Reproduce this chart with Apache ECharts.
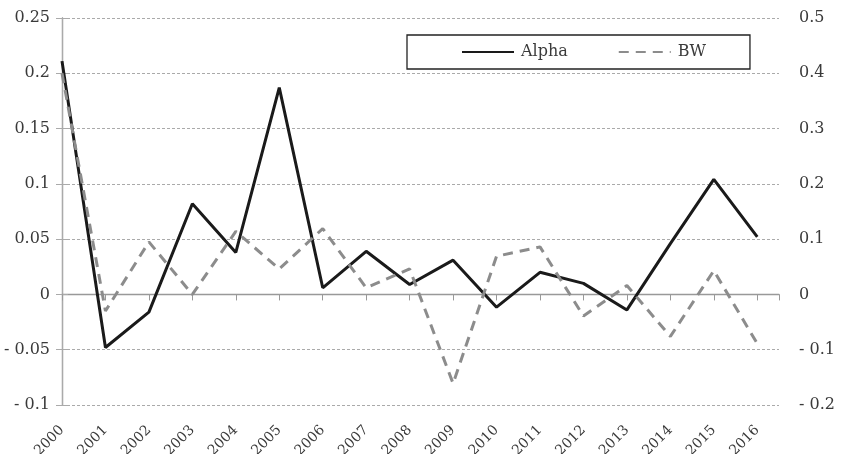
<!DOCTYPE html>
<html>
<head>
<meta charset="utf-8">
<script src="https://cdn.jsdelivr.net/npm/echarts@6/dist/echarts.min.js"></script>
<style>
  html, body { margin: 0; padding: 0; background: #fff; }
  #chart { width: 853px; height: 454px; }
</style>
</head>
<body>
<div id="chart"></div>
<script>
  // data
  var years = ['2000', '2001', '2002', '2003', '2004', '2005', '2006', '2007', '2008',
    '2009', '2010', '2011', '2012', '2013', '2014', '2015', '2016']
  var alpha = [0.211, -0.048, -0.016, 0.082, 0.038, 0.187, 0.006, 0.039, 0.009,
    0.031, -0.0115, 0.02, 0.01, -0.014, 0.046, 0.104, 0.052]
  var bw = [0.40, -0.03, 0.095, 0.0, 0.114, 0.046, 0.119, 0.012, 0.046,
    -0.161, 0.069, 0.086, -0.039, 0.016, -0.076, 0.043, -0.089]

  var font = 'DejaVu Serif'
  var textColor = '#3a3a3a'

  function fmt (v, d) {
    var s = String(+v.toFixed(d))
    return v < 0 ? '- ' + s.replace('-', '') : s
  }

  var myChart = echarts.init(document.getElementById('chart'))
  myChart.setOption({
    animation: false,
    grid: { left: 62, right: 74, top: 18, bottom: 49, containLabel: false, outerBoundsMode: 'none' },
    legend: {
      left: 407,
      top: 35,
      padding: [9, 44, 9, 54],
      itemGap: 50,
      itemWidth: 52,
      itemHeight: 14,
      borderColor: '#222',
      borderWidth: 1.3,
      itemStyle: { opacity: 0 },
      textStyle: { fontFamily: font, fontSize: 16, color: textColor, padding: [0, 0, 0, 2] },
      data: ['Alpha', 'BW']
    },
    xAxis: [
      {
        type: 'value',
        min: 0,
        max: 16.5,
        interval: 1,
        axisLine: { onZero: true, lineStyle: { color: '#999', width: 1.3 } },
        axisTick: { show: true, length: 6, lineStyle: { color: '#999' } },
        axisLabel: { show: false },
        splitLine: { show: false }
      },
      {
        type: 'value',
        position: 'bottom',
        min: 0,
        max: 16.5,
        interval: 1,
        axisLine: { show: false, onZero: false },
        axisTick: { show: false },
        splitLine: { show: false },
        axisLabel: {
          rotate: 45,
          margin: 23,
          fontFamily: font,
          fontSize: 14,
          color: textColor,
          showMaxLabel: true,
          formatter: function (v) {
            return Number.isInteger(v) ? years[v] : ''
          }
        }
      }
    ],
    yAxis: [
      {
        type: 'value',
        min: -0.1,
        max: 0.25,
        interval: 0.05,
        axisLine: { show: true, lineStyle: { color: '#aaa', width: 1.3 } },
        axisTick: { show: true, inside: false, length: 6, lineStyle: { color: '#aaa' } },
        axisLabel: {
          fontFamily: font, fontSize: 16, color: textColor, margin: 12,
          formatter: function (v) { return fmt(v, 2) }
        },
        splitLine: { show: true, lineStyle: { color: '#aaa', width: 1, type: [3, 2] } }
      },
      {
        type: 'value',
        min: -0.2,
        max: 0.5,
        interval: 0.1,
        position: 'right',
        axisLine: { show: true, lineStyle: { color: '#aaa', width: 1.3 } },
        axisTick: { show: true, length: 6, lineStyle: { color: '#aaa' } },
        axisLabel: {
          fontFamily: font, fontSize: 16, color: textColor, margin: 20,
          formatter: function (v) { return fmt(v, 1) }
        },
        splitLine: { show: false }
      }
    ],
    series: [
      {
        name: 'Alpha',
        type: 'line',
        xAxisIndex: 0,
        yAxisIndex: 0,
        symbol: 'none',
        color: '#1a1a1a',
        lineStyle: { width: 3, color: '#1a1a1a' },
        data: alpha.map(function (v, i) { return [i, v] })
      },
      {
        name: 'BW',
        type: 'line',
        xAxisIndex: 0,
        yAxisIndex: 1,
        symbol: 'none',
        color: '#8c8c8c',
        lineStyle: { width: 3, color: '#8c8c8c', type: [10, 7] },
        data: bw.map(function (v, i) { return [i, v] })
      }
    ]
  })
</script>
</body>
</html>
